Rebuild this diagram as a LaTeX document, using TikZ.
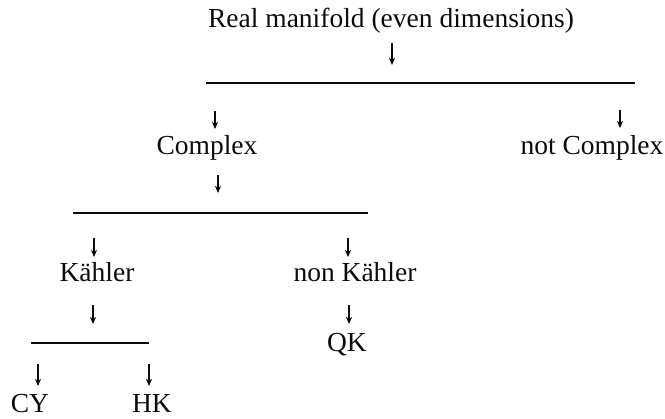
\documentclass[tikz,border=0pt]{standalone}
\usepackage{fontspec}
\setmainfont{Liberation Serif}
\usepackage{tikz}
\usetikzlibrary{arrows.meta}
\definecolor{ink}{RGB}{12,12,12}

\begin{document}
\begin{tikzpicture}[x=1pt, y=-1pt,
  lbl/.style={inner sep=0pt, anchor=base, text=ink, font=\fontsize{27.5}{32}\selectfont},
  bar/.style={draw=ink, line width=2pt},
  dn/.style={draw=ink, line width=1.1pt, -{Stealth[length=7pt,width=6pt,inset=1.8pt]}}]
  \useasboundingbox (0,0) rectangle (665,419);
  % labels
  \node[lbl] (real) at (391,28) {Real manifold (even dimensions)};
  \node[lbl] (cplx) at (207,155) {Complex};
  \node[lbl] (ncplx) at (592,155) {not Complex};
  \node[lbl] (kah) at (97,282) {Kähler};
  \node[lbl] (nkah) at (355,282) {non Kähler};
  \node[lbl] (qk) at (347,352) {QK};
  \node[lbl] (cy) at (30,413) {CY};
  \node[lbl] (hk) at (152,413) {HK};
  % bars
  \coordinate (b1l) at (206,83);  \coordinate (b1r) at (635,83);
  \coordinate (b2l) at (73,213);  \coordinate (b2r) at (368,213);
  \coordinate (b3l) at (31,343);  \coordinate (b3r) at (149,343);
  \draw[bar] (b1l) -- (b1r);
  \draw[bar] (b2l) -- (b2r);
  \draw[bar] (b3l) -- (b3r);
  % arrows
  \foreach \n/\x/\y/\l in {a0/392/43/22, a1/215/111/18, a2/620/110/18,
      a3/218/175/18, a4/94/238/19, a5/348/238/19, a6/93/305/19,
      a7/349/305/19, a8/38/364/22, a9/149/364/22}
    {\coordinate (\n) at (\x,\y);
     \draw[dn] (\n) -- ++(0,\l);}
\end{tikzpicture}
\end{document}
